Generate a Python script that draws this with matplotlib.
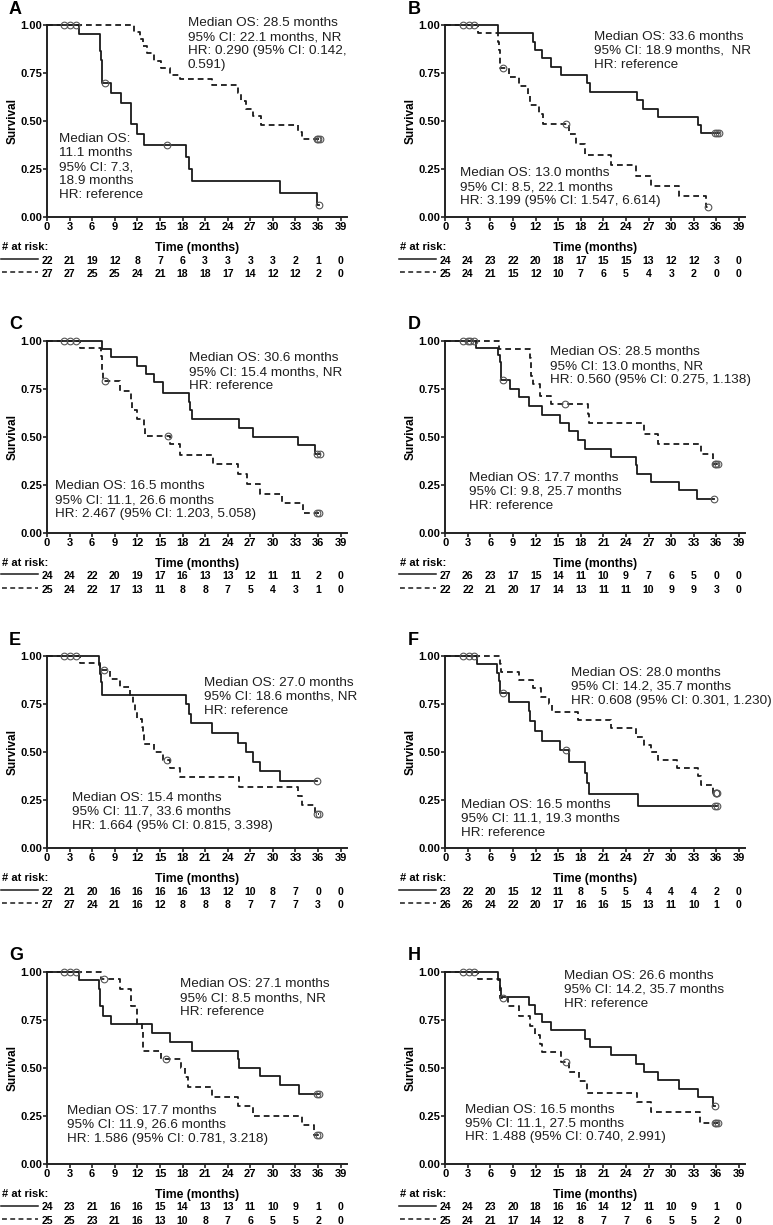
import matplotlib
matplotlib.use('Agg')
import matplotlib.pyplot as plt
import numpy as np

plt.rcParams['font.family'] = ['Liberation Sans', 'DejaVu Sans']

# ---------------- DATA ----------------
risk_times = [0, 3, 6, 9, 12, 15, 18, 21, 24, 27, 30, 33, 36, 39]
x_ticks = [0, 3, 6, 9, 12, 15, 18, 21, 24, 27, 30, 33, 36, 39]
y_ticks = [0.00, 0.25, 0.50, 0.75, 1.00]
y_ticklabels = ["0.00", "0.25", "0.50", "0.75", "1.00"]
panel_letters = ["A", "B", "C", "D", "E", "F", "G", "H"]

# Panel A
A_solid_t = [4.3, 7.0, 7.1, 7.2, 7.26, 8.5, 9.8, 11.1, 11.9, 12.9, 18.5, 18.8, 19.2, 30.9, 35.8]
A_solid_s = [0.955, 0.909, 0.864, 0.818, 0.70, 0.647, 0.594, 0.484, 0.43, 0.376, 0.313, 0.25, 0.188, 0.125, 0.063]
A_solid_c = [2.3, 3.1, 3.8, 7.7, 15.9, 36.1]
A_dash_t = [11.5, 12.35, 12.8, 13.3, 14.2, 15.2, 16.3, 17.7, 21.9, 25.4, 25.7, 26.4, 27.3, 28.4, 33.3, 33.8]
A_dash_s = [0.963, 0.926, 0.889, 0.852, 0.815, 0.778, 0.741, 0.72, 0.685, 0.645, 0.605, 0.565, 0.525, 0.481, 0.444, 0.405]
A_dash_c = [35.8, 36.0, 36.2]
A_risk_solid = [22, 21, 19, 12, 8, 7, 6, 3, 3, 3, 3, 2, 1, 0]
A_risk_dash = [27, 27, 25, 25, 24, 21, 18, 18, 17, 14, 12, 12, 2, 0]
A_text_1 = "Median OS: 28.5 months\n95% CI: 22.1 months, NR\nHR: 0.290 (95% CI: 0.142,\n0.591)"
A_text_2 = "Median OS:\n11.1 months\n95% CI: 7.3,\n18.9 months\nHR: reference"

# Panel B
B_solid_t = [7.0, 11.6, 11.9, 12.9, 14.1, 15.3, 18.8, 19.2, 25.5, 26.3, 28.2, 33.5, 33.9]
B_solid_s = [0.957, 0.913, 0.870, 0.826, 0.783, 0.739, 0.696, 0.652, 0.609, 0.565, 0.522, 0.478, 0.435]
B_solid_c = [2.3, 3.1, 3.8, 35.8, 36.1, 36.3]
B_dash_t = [4.3, 7.0, 7.1, 7.2, 7.3, 8.5, 9.8, 11.0, 11.2, 12.5, 13.0, 16.4, 17.4, 18.5, 22.0, 25.3, 27.3, 31.1, 34.6]
B_dash_s = [0.96, 0.914, 0.868, 0.822, 0.776, 0.728, 0.68, 0.631, 0.583, 0.534, 0.485, 0.432, 0.378, 0.324, 0.27, 0.216, 0.162, 0.108, 0.054]
B_dash_c = [7.7, 16.0, 34.9]
B_risk_solid = [24, 24, 23, 22, 20, 18, 17, 15, 15, 13, 12, 12, 3, 0]
B_risk_dash = [25, 24, 21, 15, 12, 10, 7, 6, 5, 4, 3, 2, 0, 0]
B_text_1 = "Median OS: 33.6 months\n95% CI: 18.9 months,  NR\nHR: reference"
B_text_2 = "Median OS: 13.0 months\n95% CI: 8.5, 22.1 months\nHR: 3.199 (95% CI: 1.547, 6.614)"

# Panel C
C_solid_t = [7.3, 8.5, 11.9, 13.1, 14.2, 15.4, 18.8, 19.0, 19.2, 25.5, 27.4, 33.3, 35.6]
C_solid_s = [0.957, 0.913, 0.87, 0.826, 0.783, 0.729, 0.681, 0.636, 0.59, 0.545, 0.50, 0.455, 0.409]
C_solid_c = [2.3, 3.1, 3.8, 35.9, 36.2]
C_dash_t = [4.4, 7.2, 7.3, 7.35, 7.4, 9.7, 11.1, 11.3, 11.9, 12.9, 13.0, 16.4, 17.7, 22.0, 25.4, 26.5, 28.3, 31.2, 34.0]
C_dash_s = [0.96, 0.92, 0.88, 0.84, 0.787, 0.74, 0.69, 0.64, 0.59, 0.545, 0.505, 0.46, 0.406, 0.355, 0.305, 0.253, 0.202, 0.152, 0.101]
C_dash_c = [7.7, 16.1, 35.8, 36.1]
C_risk_solid = [24, 24, 22, 20, 19, 17, 16, 13, 13, 12, 11, 11, 2, 0]
C_risk_dash = [25, 24, 22, 17, 13, 11, 8, 8, 7, 5, 4, 3, 1, 0]
C_text_1 = "Median OS: 30.6 months\n95% CI: 15.4 months, NR\nHR: reference"
C_text_2 = "Median OS: 16.5 months\n95% CI: 11.1, 26.6 months\nHR: 2.467 (95% CI: 1.203, 5.058)"

# Panel D
D_solid_t = [4.1, 7.0, 7.2, 7.4, 8.6, 9.8, 11.1, 12.9, 15.2, 16.4, 17.6, 18.6, 22.0, 25.3, 25.5, 27.3, 31.0, 33.4]
D_solid_s = [0.963, 0.926, 0.889, 0.795, 0.75, 0.705, 0.66, 0.615, 0.57, 0.528, 0.483, 0.437, 0.395, 0.35, 0.306, 0.265, 0.22, 0.175]
D_solid_c = [7.7, 35.7]
D_dash_t = [7.1, 11.3, 11.35, 11.4, 11.7, 12.6, 14.1, 19.0, 19.1, 26.4, 28.2, 33.9, 35.6]
D_dash_s = [0.955, 0.909, 0.864, 0.818, 0.773, 0.71, 0.668, 0.62, 0.573, 0.515, 0.463, 0.41, 0.358]
D_dash_c = [2.3, 3.0, 3.3, 3.8, 15.9, 35.8, 36.0, 36.2]
D_risk_solid = [27, 26, 23, 17, 15, 14, 11, 10, 9, 7, 6, 5, 0, 0]
D_risk_dash = [22, 22, 21, 20, 17, 14, 13, 11, 11, 10, 9, 9, 3, 0]
D_text_1 = "Median OS: 28.5 months\n95% CI: 13.0 months, NR\nHR: 0.560 (95% CI: 0.275, 1.138)"
D_text_2 = "Median OS: 17.7 months\n95% CI: 9.8, 25.7 months\nHR: reference"

# Panel E
E_solid_t = [6.95, 7.05, 7.15, 7.25, 18.5, 18.8, 19.1, 21.9, 25.4, 26.4, 27.4, 28.3, 31.0]
E_solid_s = [0.955, 0.909, 0.864, 0.80, 0.75, 0.70, 0.65, 0.60, 0.55, 0.50, 0.45, 0.40, 0.35]
E_solid_c = [2.3, 3.1, 3.8, 35.8]
E_dash_t = [4.4, 7.0, 8.4, 9.7, 11.0, 11.4, 11.7, 11.9, 12.6, 12.8, 12.9, 14.2, 15.4, 16.4, 17.7, 25.5, 33.3, 33.8, 35.6]
E_dash_s = [0.963, 0.926, 0.88, 0.838, 0.796, 0.755, 0.713, 0.671, 0.629, 0.587, 0.545, 0.50, 0.46, 0.418, 0.37, 0.32, 0.273, 0.227, 0.18]
E_dash_c = [7.6, 15.9, 35.9, 36.1]
E_risk_solid = [22, 21, 20, 16, 16, 16, 16, 13, 12, 10, 8, 7, 0, 0]
E_risk_dash = [27, 27, 24, 21, 16, 12, 8, 8, 8, 7, 7, 7, 3, 0]
E_text_1 = "Median OS: 27.0 months\n95% CI: 18.6 months, NR\nHR: reference"
E_text_2 = "Median OS: 15.4 months\n95% CI: 11.7, 33.6 months\nHR: 1.664 (95% CI: 0.815, 3.398)"

# Panel F
F_solid_t = [4.2, 6.9, 7.1, 7.3, 8.5, 11.1, 11.2, 11.9, 12.9, 15.2, 16.4, 18.5, 18.8, 19.1, 25.6]
F_solid_s = [0.957, 0.913, 0.87, 0.81, 0.762, 0.713, 0.66, 0.61, 0.56, 0.51, 0.45, 0.39, 0.34, 0.28, 0.22]
F_solid_c = [2.3, 3.1, 3.8, 7.6, 16.0, 35.8, 36.1]
F_dash_t = [7.2, 7.4, 9.8, 11.6, 12.7, 13.8, 14.2, 17.6, 22.0, 25.3, 26.4, 27.3, 28.2, 30.8, 33.5, 33.9, 35.6]
F_dash_s = [0.96, 0.92, 0.875, 0.835, 0.79, 0.75, 0.71, 0.67, 0.625, 0.58, 0.54, 0.50, 0.46, 0.42, 0.375, 0.33, 0.29]
F_dash_c = [35.9, 36.0, 36.1]
F_risk_solid = [23, 22, 20, 15, 12, 11, 8, 5, 5, 4, 4, 4, 2, 0]
F_risk_dash = [26, 26, 24, 22, 20, 17, 16, 16, 15, 13, 11, 10, 1, 0]
F_text_1 = "Median OS: 28.0 months\n95% CI: 14.2, 35.7 months\nHR: 0.608 (95% CI: 0.301, 1.230)"
F_text_2 = "Median OS: 16.5 months\n95% CI: 11.1, 19.3 months\nHR: reference"

# Panel G
G_solid_t = [4.3, 6.95, 7.0, 7.04, 7.5, 8.5, 14.0, 16.4, 19.2, 25.4, 25.5, 28.3, 31.0, 33.4]
G_solid_s = [0.958, 0.913, 0.866, 0.82, 0.77, 0.727, 0.682, 0.636, 0.59, 0.545, 0.50, 0.455, 0.41, 0.364]
G_solid_c = [2.3, 3.1, 3.8, 35.8, 36.1]
G_dash_t = [7.2, 9.7, 11.1, 11.15, 11.9, 11.95, 12.65, 12.7, 12.75, 15.2, 17.75, 18.3, 18.7, 21.9, 25.4, 27.3, 33.8, 35.4]
G_dash_s = [0.96, 0.91, 0.865, 0.82, 0.775, 0.73, 0.685, 0.64, 0.59, 0.545, 0.50, 0.45, 0.40, 0.35, 0.30, 0.25, 0.20, 0.15]
G_dash_c = [7.6, 15.8, 35.8, 36.1]
G_risk_solid = [24, 23, 21, 16, 16, 15, 14, 13, 13, 11, 10, 9, 1, 0]
G_risk_dash = [25, 25, 23, 21, 16, 13, 10, 8, 7, 6, 5, 5, 2, 0]
G_text_1 = "Median OS: 27.1 months\n95% CI: 8.5 months, NR\nHR: reference"
G_text_2 = "Median OS: 17.7 months\n95% CI: 11.9, 26.6 months\nHR: 1.586 (95% CI: 0.781, 3.218)"

# Panel H
H_solid_t = [7.0, 7.2, 7.4, 11.1, 11.9, 12.8, 14.1, 18.5, 19.2, 22.0, 25.3, 26.4, 28.2, 31.1, 33.5, 35.5]
H_solid_s = [0.958, 0.917, 0.87, 0.826, 0.78, 0.74, 0.696, 0.652, 0.609, 0.565, 0.522, 0.478, 0.435, 0.39, 0.348, 0.30]
H_solid_c = [2.3, 3.1, 3.8, 35.8]
H_dash_t = [4.3, 7.2, 7.3, 8.3, 9.8, 11.2, 11.9, 12.6, 12.9, 15.4, 16.4, 17.7, 18.8, 25.5, 27.3, 33.8]
H_dash_s = [0.96, 0.92, 0.865, 0.82, 0.77, 0.72, 0.67, 0.625, 0.58, 0.53, 0.48, 0.43, 0.37, 0.32, 0.27, 0.21]
H_dash_c = [7.6, 16.0, 35.8, 36.0, 36.2]
H_risk_solid = [24, 24, 23, 20, 18, 16, 16, 14, 12, 11, 10, 9, 1, 0]
H_risk_dash = [25, 24, 21, 17, 14, 12, 8, 7, 7, 6, 5, 5, 2, 0]
H_text_1 = "Median OS: 26.6 months\n95% CI: 14.2, 35.7 months\nHR: reference"
H_text_2 = "Median OS: 16.5 months\n95% CI: 11.1, 27.5 months\nHR: 1.488 (95% CI: 0.740, 2.991)"

panels = [
    (A_solid_t, A_solid_s, A_solid_c, A_dash_t, A_dash_s, A_dash_c, A_risk_solid, A_risk_dash, A_text_1, A_text_2),
    (B_solid_t, B_solid_s, B_solid_c, B_dash_t, B_dash_s, B_dash_c, B_risk_solid, B_risk_dash, B_text_1, B_text_2),
    (C_solid_t, C_solid_s, C_solid_c, C_dash_t, C_dash_s, C_dash_c, C_risk_solid, C_risk_dash, C_text_1, C_text_2),
    (D_solid_t, D_solid_s, D_solid_c, D_dash_t, D_dash_s, D_dash_c, D_risk_solid, D_risk_dash, D_text_1, D_text_2),
    (E_solid_t, E_solid_s, E_solid_c, E_dash_t, E_dash_s, E_dash_c, E_risk_solid, E_risk_dash, E_text_1, E_text_2),
    (F_solid_t, F_solid_s, F_solid_c, F_dash_t, F_dash_s, F_dash_c, F_risk_solid, F_risk_dash, F_text_1, F_text_2),
    (G_solid_t, G_solid_s, G_solid_c, G_dash_t, G_dash_s, G_dash_c, G_risk_solid, G_risk_dash, G_text_1, G_text_2),
    (H_solid_t, H_solid_s, H_solid_c, H_dash_t, H_dash_s, H_dash_c, H_risk_solid, H_risk_dash, H_text_1, H_text_2),
]

# ---------------- LAYOUT (positions / styles) ----------------
# annotation anchor (x in months, y in survival units), left/top aligned
text_pos = [
    ((18.7, 1.04), (1.6, 0.435)),
    ((19.8, 0.97), (1.95, 0.258)),
    ((18.9, 0.94), (1.06, 0.273)),
    ((13.9, 0.97), (3.1, 0.316)),
    ((20.8, 0.893), (3.3, 0.293)),
    ((16.7, 0.945), (2.1, 0.258)),
    ((17.7, 0.967), (2.6, 0.308)),
    ((15.8, 1.01), (2.65, 0.314)),
]

W, H = 773, 1225
fig = plt.figure(figsize=(W / 100, H / 100), dpi=100)
PXM = 7.53          # px per month
XMAX = 39.8
AX_W = XMAX * PXM
AX_H = 192.0
COL_X = [47.0, 445.3]
ROW_Y = [25.0, 340.6, 656.2, 971.8]

LINE_C = '#1a1a1a'
DASH = (3.2, 2.2)
TXT_C = '#1e1e1e'
ANN_FS = 9.7
ANN_LS = 1.22


def step_xy(t, s, cens):
    end = max([t[-1]] + list(cens))
    tt = np.array([0.0] + list(t) + [end])
    ss = np.array([1.0] + list(s) + [s[-1]])
    return tt, ss


def surv_at(tt, ss, c):
    i = np.searchsorted(tt, c, side='right') - 1
    return ss[max(i, 0)]


for k, p in enumerate(panels):
    st, ss_, sc, dt, ds, dc, rs, rd, t1, t2 = p
    r, c = divmod(k, 2)
    x0 = COL_X[c]
    ytop = ROW_Y[r]
    ax = fig.add_axes([x0 / W, 1 - (ytop + AX_H) / H, AX_W / W, AX_H / H])
    ax.set_xlim(0, XMAX)
    ax.set_ylim(0, 1.0)
    for sp in ['top', 'right']:
        ax.spines[sp].set_visible(False)
    for sp in ['left', 'bottom']:
        ax.spines[sp].set_linewidth(1.4)
        ax.spines[sp].set_color('#222222')
    ax.set_xticks(x_ticks)
    ax.set_xticklabels([str(v) for v in x_ticks])
    ax.set_yticks(y_ticks)
    ax.set_yticklabels(y_ticklabels)
    ax.tick_params(axis='both', direction='out', length=2.6, width=1.2, color='#222222',
                   labelsize=8.0, pad=1.0)
    for lab in ax.get_xticklabels() + ax.get_yticklabels():
        lab.set_fontweight('bold')
    ax.patch.set_alpha(0)

    # curves
    tt, sv = step_xy(st, ss_, sc)
    ax.step(tt, sv, where='post', color=LINE_C, lw=1.3, clip_on=False, zorder=3)
    cy = [surv_at(tt, sv, v) for v in sc]
    ax.plot(sc, cy, 'o', mfc='none', mec='#555555', ms=4.8, mew=0.8, clip_on=False, zorder=4)

    tt2, sv2 = step_xy(dt, ds, dc)
    ax.step(tt2, sv2, where='post', color=LINE_C, lw=1.3, dashes=DASH, clip_on=False, zorder=3)
    cy2 = [surv_at(tt2, sv2, v) for v in dc]
    ax.plot(dc, cy2, 'o', mfc='none', mec='#555555', ms=4.8, mew=0.8, clip_on=False, zorder=4)

    # annotations
    (ux, uy), (lx, ly) = text_pos[k]
    ax.text(ux, uy, t1, ha='left', va='top', fontsize=ANN_FS, color=TXT_C,
            linespacing=ANN_LS, clip_on=False)
    ax.text(lx, ly, t2, ha='left', va='top', fontsize=ANN_FS, color=TXT_C,
            linespacing=ANN_LS, clip_on=False)

    # panel letter & y-label
    fig.text((x0 - 38) / W, 1 - (ytop - 11.5) / H, panel_letters[k], fontsize=13,
             fontweight='bold', ha='left', va='baseline')
    fig.text((x0 - 34.5) / W, 1 - (ytop + AX_H / 2) / H, "Survival", rotation=90,
             fontsize=8.5, fontweight='bold', ha='center', va='center')

    # risk table
    trans = ax.get_xaxis_transform()
    y_hdr = -30.0 / AX_H
    y_r1 = -43.5 / AX_H
    y_r2 = -57.0 / AX_H
    ax.text(-45 / PXM, y_hdr, "# at risk:", transform=trans, ha='left', va='center',
            fontsize=8.0, fontweight='bold')
    ax.text(XMAX / 2, y_hdr - 1.0 / AX_H, "Time (months)", transform=trans, ha='center',
            va='center', fontsize=8.8, fontweight='bold')
    for tm, n1, n2 in zip(risk_times, rs, rd):
        ax.text(tm, y_r1, str(n1), transform=trans, ha='center', va='center',
                fontsize=7.6, fontweight='bold')
        ax.text(tm, y_r2, str(n2), transform=trans, ha='center', va='center',
                fontsize=7.6, fontweight='bold')
    ax.plot([-46 / PXM, -1.2], [y_r1 + 1.8 / AX_H] * 2, transform=trans, color=LINE_C,
            lw=1.1, clip_on=False)
    ax.plot([-45 / PXM, -1.2], [y_r2 + 1.8 / AX_H] * 2, transform=trans, color=LINE_C,
            lw=1.1, dashes=DASH, clip_on=False)

fig.savefig('out.png', dpi=100)
